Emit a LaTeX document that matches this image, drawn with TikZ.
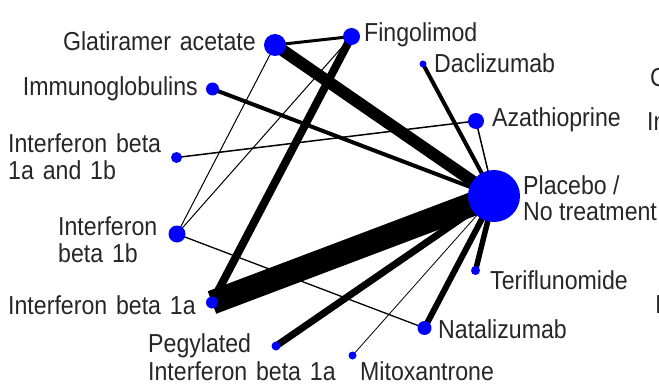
\documentclass[tikz,border=0pt]{standalone}
\usepackage{fontspec}
\setmainfont{Liberation Sans}[FakeStretch=0.89]
\usetikzlibrary{backgrounds}
\newcommand{\wg}{\hspace{0.34em}}
\tikzset{
  trt/.style={circle, fill=blue, draw=none, inner sep=0pt, minimum size=#1},
  lbl/.style={inner sep=0pt, font=\fontsize{26}{27}\selectfont, text=black!85},
  edge/.style={draw=black, line width=#1},
}
\begin{document}
\begin{tikzpicture}[x=1pt,y=-1pt]
\useasboundingbox (0,0) rectangle (659,385);
% treatment nodes
\node[trt=22pt] (gla) at (275,45) {};
\node[trt=17pt] (fin) at (351.5,36.5) {};
\node[trt=7pt]  (dac) at (423,64) {};
\node[trt=13pt] (imm) at (212.5,89) {};
\node[trt=16pt] (aza) at (476,121) {};
\node[trt=11pt] (ifnab) at (176.5,157.5) {};
\node[trt=52pt] (pla) at (494,196) {};
\node[trt=17pt] (ifnb) at (177,234) {};
\node[trt=9pt]  (ter) at (475.5,270.5) {};
\node[trt=12pt] (ifna) at (212,302.5) {};
\node[trt=14pt] (nat) at (424.5,328) {};
\node[trt=9pt]  (peg) at (276,346) {};
\node[trt=8pt]  (mit) at (352.5,355.5) {};
% connectors
\begin{scope}[on background layer]
\draw[edge=24pt] (ifna.center) -- (pla.center);
\draw[edge=12pt] (gla.center) -- (pla.center);
\draw[edge=8pt]  (fin.center) -- (ifna.center);
\draw[edge=7pt]  (peg.center) -- (pla.center);
\draw[edge=6pt]  (nat.center) -- (pla.center);
\draw[edge=5.5pt] (ter.center) -- (pla.center);
\draw[edge=4pt]  (imm.center) -- (pla.center);
\draw[edge=4pt]  (dac.center) -- (pla.center);
\draw[edge=3pt]  (gla.center) -- (fin.center);
\draw[edge=1.5pt] (aza.center) -- (pla.center);
\draw[edge=1.5pt] (ifnab.center) -- (aza.center);
\draw[edge=1.3pt] (ifnb.center) -- (nat.center);
\draw[edge=1pt]  (gla.center) -- (ifnb.center);
\draw[edge=1pt]  (fin.center) -- (ifnb.center);
\draw[edge=0.8pt] (mit.center) -- (pla.center);
\end{scope}
% labels
\node[lbl, anchor=base east] (l-gla) at (256,51) {Glatiramer\wg acetate};
\node[lbl, anchor=base west] (l-fin) at (364,42) {Fingolimod};
\node[lbl, anchor=base west] (l-dac) at (434,73) {Daclizumab};
\node[lbl, anchor=base east] (l-imm) at (198,96) {Immunoglobulins};
\node[lbl, anchor=base west] (l-aza) at (492,127) {Azathioprine};
\node[lbl, anchor=base west] (l-ifnab1) at (8,153) {Interferon\wg beta};
\node[lbl, anchor=base west] (l-ifnab2) at (8,180) {1a\wg and\wg 1b};
\node[lbl, anchor=base west] (l-pla1) at (523,194) {Placebo /};
\node[lbl, anchor=base west] (l-pla2) at (523,220) {No treatment};
\node[lbl, anchor=base west] (l-ifnb1) at (58,235) {Interferon};
\node[lbl, anchor=base west] (l-ifnb2) at (58,262) {beta\wg 1b};
\node[lbl, anchor=base west] (l-ter) at (490,289) {Teriflunomide};
\node[lbl, anchor=base west] (l-ifna) at (8,314) {Interferon\wg beta\wg 1a};
\node[lbl, anchor=base west] (l-nat) at (438,338) {Natalizumab};
\node[lbl, anchor=base west] (l-peg1) at (148,352) {Pegylated};
\node[lbl, anchor=base west] (l-peg2) at (148,380) {Interferon\wg beta\wg 1a};
\node[lbl, anchor=base west] (l-mit) at (360,380) {Mitoxantrone};
% fragments of a neighbouring panel, cut by the right edge
\node[lbl, anchor=base west] (f1) at (650,87) {C};
\node[lbl, anchor=base west] (f2) at (647,131) {In};
\node[lbl, anchor=base west] (f3) at (655,313) {I};
\end{tikzpicture}
\end{document}
